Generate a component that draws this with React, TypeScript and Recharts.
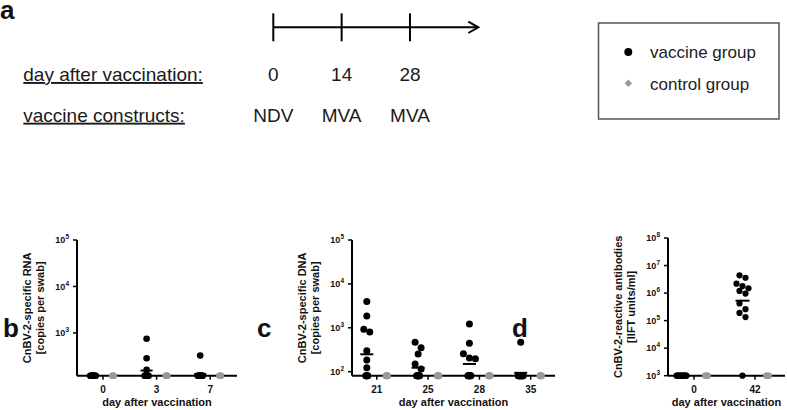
import React from 'react';
import { ScatterChart, Scatter, XAxis, YAxis, LineChart, Line } from 'recharts';

const W = 787;
const H = 410;
const FONT = '"Liberation Sans", Arial, Helvetica, sans-serif';

// ---------- panel a: vaccination schedule ----------
const TIMELINE_DAYS = [0, 14, 28];
const TIMELINE_CONSTRUCTS = ['NDV', 'MVA', 'MVA'];
const TIMELINE_END = 42;
const ROW_LABELS = ['day after vaccination:', 'vaccine constructs:'];

// ---------- legend ----------
const GROUP_NAMES = ['vaccine group', 'control group'];

// ---------- panel b: RNA (copies per swab) ----------
const B_DAYS = ['0', '3', '7'];
const B_FLOOR = 120;
const B_TOP = 100000;
const B_TICKS = [1000, 10000, 100000];
const B_VACCINE = [
  [120, 120, 120, 120, 120, 120, 120, 120, 120, 120, 120, 120],
  [750, 286, 160, 120, 120, 120, 120, 120, 120, 120, 120, 120],
  [325, 120, 120, 120, 120, 120, 120, 120, 120, 120, 120, 120],
];
const B_CONTROL = [
  [120, 120, 120, 120],
  [120, 120, 120, 120],
  [120, 120, 120, 120],
];
const B_MEAN = [120, 155, 131];

// ---------- panel c: DNA (copies per swab) ----------
const C_DAYS = ['21', '25', '28', '35'];
const C_FLOOR = 81;
const C_TOP = 100000;
const C_TICKS = [100, 1000, 10000, 100000];
const C_VACCINE = [
  [3950, 1860, 925, 800, 300, 185, 123, 81, 81, 81, 81, 81],
  [468, 352, 253, 150, 115, 81, 81, 81, 81, 81, 81, 81],
  [1220, 443, 255, 205, 198, 81, 81, 81, 81, 81, 81, 81],
  [468, 81, 81, 81, 81, 81, 81, 81, 81, 81, 81, 81],
];
const C_CONTROL = [
  [81, 81, 81, 81],
  [81, 81, 81, 81],
  [81, 81, 81, 81],
  [81, 81, 81, 81],
];
const C_MEAN = [249, 123, 150, 94];

// ---------- panel d: antibodies (IIFT units/ml) ----------
const D_DAYS = ['0', '42'];
const D_FLOOR = 1000;
const D_TOP = 100000000;
const D_TICKS = [1000, 10000, 100000, 1000000, 10000000, 100000000];
const D_VACCINE = [
  [1000, 1000, 1000, 1000, 1000, 1000, 1000, 1000, 1000, 1000, 1000, 1000],
  [4400000, 3600000, 2200000, 1800000, 1500000, 1200000, 960000, 420000, 260000, 190000, 135000, 1000],
];
const D_CONTROL = [
  [1000, 1000, 1000, 1000],
  [1000, 1000, 1000, 1000],
];
const D_MEAN = [1000, 530000];

type PanelCfg = {
  days: string[];
  floor: number;
  top: number;
  yTicks: number[];
  vaccine: number[][];
  control: number[][];
  mean: number[];
  titles: [string, string];
  plotLeft: number;
  plotRight: number;
  plotTop: number;
  plotBottom: number;
  firstCenter: number;
  spacing: number;
  offset: number;
  r: number;
  meanHalf: number;
  baseStep: number;
};

const PANELS: PanelCfg[] = [
  {
    days: B_DAYS, floor: B_FLOOR, top: B_TOP, yTicks: B_TICKS,
    vaccine: B_VACCINE, control: B_CONTROL, mean: B_MEAN,
    titles: ['CnBV-2-specific RNA', '[copies per swab]'],
    plotLeft: 77, plotRight: 237, plotTop: 240, plotBottom: 375.7,
    firstCenter: 103, spacing: 53.6, offset: 10, r: 3.3, meanHalf: 6, baseStep: 0.5,
  },
  {
    days: C_DAYS, floor: C_FLOOR, top: C_TOP, yTicks: C_TICKS,
    vaccine: C_VACCINE, control: C_CONTROL, mean: C_MEAN,
    titles: ['CnBV-2-specific DNA', '[copies per swab]'],
    plotLeft: 352, plotRight: 555, plotTop: 240, plotBottom: 375.7,
    firstCenter: 376.8, spacing: 51.3, offset: 10, r: 3.5, meanHalf: 6.5, baseStep: 0.5,
  },
  {
    days: D_DAYS, floor: D_FLOOR, top: D_TOP, yTicks: D_TICKS,
    vaccine: D_VACCINE, control: D_CONTROL, mean: D_MEAN,
    titles: ['CnBV-2-reactive antibodies', '[IIFT units/ml]'],
    plotLeft: 668, plotRight: 785, plotTop: 238, plotBottom: 375.7,
    firstCenter: 694, spacing: 61, offset: 12.5, r: 3.1, meanHalf: 7, baseStep: 0.9,
  },
];

// simple scatter-dot-plot spreading (like a column scatter plot)
function layoutGroup(values: number[], floor: number, pxPerDecade: number, pxPerUnit: number, center: number, baseStep: number) {
  const out: { x: number; y: number }[] = [];
  const base = values.filter((v) => v <= floor);
  base.forEach((v, i) => {
    const dxPx = (i - (base.length - 1) / 2) * baseStep;
    out.push({ x: center + dxPx / pxPerUnit, y: v });
  });
  const rest = values.filter((v) => v > floor).sort((a, b) => b - a);
  let i = 0;
  while (i < rest.length) {
    const y0 = Math.log10(rest[i]) * pxPerDecade;
    let j = i;
    while (j < rest.length && y0 - Math.log10(rest[j]) * pxPerDecade < 6.5) j++;
    const k = j - i;
    for (let m = i; m < j; m++) {
      const dxPx = (m - i - (k - 1) / 2) * 6;
      out.push({ x: center + dxPx / pxPerUnit, y: rest[m] });
    }
    i = j;
  }
  return out;
}

const Y_AXIS_W = 60;
const X_AXIS_H = 30;

function DotPanel({ cfg }: { cfg: PanelCfg }) {
  const pxPerUnit = cfg.offset * 2;
  const xMin = -(cfg.firstCenter - cfg.plotLeft) / pxPerUnit;
  const xMax = (cfg.plotRight - cfg.firstCenter) / pxPerUnit;
  const centers = cfg.days.map((_, i) => (i * cfg.spacing) / pxPerUnit);
  const pxPerDecade = (cfg.plotBottom - cfg.plotTop) / (Math.log10(cfg.top) - Math.log10(cfg.floor));
  const vac = cfg.vaccine.flatMap((vals, i) =>
    layoutGroup(vals, cfg.floor, pxPerDecade, pxPerUnit, centers[i] - 0.5, cfg.baseStep)
  );
  const ctl = cfg.control.flatMap((vals, i) =>
    layoutGroup(vals, cfg.floor, pxPerDecade, pxPerUnit, centers[i] + 0.5, cfg.baseStep)
  );
  const means = cfg.mean.map((v, i) => ({ x: centers[i] - 0.5, y: v }));
  const margin = {
    left: cfg.plotLeft - Y_AXIS_W,
    right: W - cfg.plotRight,
    top: cfg.plotTop,
    bottom: H - cfg.plotBottom - X_AXIS_H,
  };
  const midY = (cfg.plotTop + cfg.plotBottom) / 2;
  const midX = (cfg.plotLeft + cfg.plotRight) / 2;

  const XTick = (p: any) => (
    <text x={p.x} y={p.y + 11} textAnchor="middle" fontSize={10} fontWeight="bold" fill="#111" fontFamily={FONT}>
      {cfg.days[p.index]}
    </text>
  );
  const YTick = (p: any) => {
    const exp = Math.round(Math.log10(p.payload.value));
    return (
      <text x={p.x} y={p.y + 3.3} textAnchor="end" fontSize={9} fontWeight="bold" fill="#111" fontFamily={FONT}>
        10<tspan dy={-4} fontSize={6.5}>{exp}</tspan>
      </text>
    );
  };
  const yTitle = () => (
    <g fontFamily={FONT} fontSize={11} fontWeight="bold" fill="#111">
      <text transform={`translate(${cfg.plotLeft - 50},${midY}) rotate(-90)`} textAnchor="middle" dominantBaseline="central">
        {cfg.titles[0]}
      </text>
      <text transform={`translate(${cfg.plotLeft - 37},${midY}) rotate(-90)`} textAnchor="middle" dominantBaseline="central">
        {cfg.titles[1]}
      </text>
    </g>
  );
  const xTitle = () => (
    <text x={midX} y={405.5} textAnchor="middle" fontFamily={FONT} fontSize={11} fontWeight="bold" fill="#111">
      day after vaccination
    </text>
  );
  const dot = (color: string) => (p: any) => <circle cx={p.cx} cy={p.cy} r={cfg.r} fill={color} />;
  const meanShape = (p: any) => (
    <line x1={p.cx - cfg.meanHalf} x2={p.cx + cfg.meanHalf} y1={p.cy} y2={p.cy} stroke="#000" strokeWidth={2} />
  );

  return (
    <div style={{ position: 'absolute', left: 0, top: 0 }}>
      <ScatterChart width={W} height={H} margin={margin}>
        <XAxis
          type="number"
          dataKey="x"
          domain={[xMin, xMax]}
          ticks={centers}
          interval={0}
          height={X_AXIS_H}
          axisLine={{ stroke: '#000', strokeWidth: 2 }}
          tickLine={{ stroke: '#000', strokeWidth: 1.5 }}
          tickSize={4}
          tickMargin={2}
          tick={XTick}
          label={{ content: xTitle }}
        />
        <YAxis
          type="number"
          dataKey="y"
          scale="log"
          domain={[cfg.floor, cfg.top]}
          ticks={cfg.yTicks}
          interval={0}
          width={Y_AXIS_W}
          axisLine={{ stroke: '#000', strokeWidth: 2 }}
          tickLine={{ stroke: '#000', strokeWidth: 1.5 }}
          tickSize={4}
          tickMargin={4}
          tick={YTick}
          label={{ content: yTitle }}
        />
        <Scatter name="control group" data={ctl} fill="#999" shape={dot('#999')} isAnimationActive={false} />
        <Scatter name="vaccine group" data={vac} fill="#000" shape={dot('#000')} isAnimationActive={false} />
        <Scatter name="mean" data={means} fill="#000" shape={meanShape} isAnimationActive={false} />
      </ScatterChart>
    </div>
  );
}

function Timeline() {
  const data = [
    { d: TIMELINE_DAYS[0], v: 0 },
    { d: TIMELINE_END, v: 0 },
  ];
  const plotLeft = 273.3;
  const plotRight = 478.3;
  const plotTop = 13.3;
  const plotBottom = 41.3;
  const chartH = 130;
  const axisH = 80;
  const margin = { left: plotLeft, right: W - plotRight, top: plotTop, bottom: chartH - plotBottom - axisH };
  const Tick = (p: any) => {
    const idx = TIMELINE_DAYS.indexOf(p.payload.value);
    return (
      <g fontFamily={FONT} fontSize={19} fill="#1a1a1a">
        <line x1={p.x} x2={p.x} y1={p.y - 28} y2={p.y} stroke="#000" strokeWidth={2} />
        <text x={p.x} y={p.y + 39.7} textAnchor="middle">{p.payload.value}</text>
        <text x={p.x} y={p.y + 80.4} textAnchor="middle">{TIMELINE_CONSTRUCTS[idx]}</text>
      </g>
    );
  };
  const Arrow = (p: any) =>
    p.index === data.length - 1 ? (
      <polyline
        key="arrow"
        points={`${p.cx - 10},${p.cy - 5.7} ${p.cx},${p.cy} ${p.cx - 10},${p.cy + 5.7}`}
        fill="none"
        stroke="#000"
        strokeWidth={2}
      />
    ) : (
      <g key={`d${p.index}`} />
    );
  return (
    <div style={{ position: 'absolute', left: 0, top: 0 }}>
      <LineChart width={W} height={chartH} data={data} margin={margin}>
        <XAxis
          type="number"
          dataKey="d"
          domain={[TIMELINE_DAYS[0], TIMELINE_END]}
          ticks={TIMELINE_DAYS}
          interval={0}
          height={axisH}
          axisLine={false}
          tickLine={false}
          tickSize={0}
          tickMargin={0}
          tick={Tick}
        />
        <YAxis hide domain={[-1, 1]} />
        <Line dataKey="v" stroke="#000" strokeWidth={2} dot={Arrow} isAnimationActive={false} />
      </LineChart>
    </div>
  );
}

function Overlay() {
  return (
    <svg width={W} height={H} style={{ position: 'absolute', left: 0, top: 0 }} fontFamily={FONT}>
      <g fontSize={26} fontWeight="bold" fill="#111">
        <text x={0} y={19}>a</text>
        <text x={3} y={337}>b</text>
        <text x={257} y={337}>c</text>
        <text x={512} y={337}>d</text>
      </g>
      <g fontSize={19} fill="#1a1a1a">
        <text x={23.3} y={81} textDecoration="underline">{ROW_LABELS[0]}</text>
        <text x={23.3} y={121.7} textDecoration="underline">{ROW_LABELS[1]}</text>
      </g>
      <rect x={598.5} y={23} width={180.5} height={96} fill="#fff" stroke="#555" strokeWidth={1.5} />
      <circle cx={628.3} cy={52} r={4} fill="#000" />
      <polygon points="628.3,79.5 632,83.3 628.3,87.1 624.6,83.3" fill="#999" />
      <g fontSize={17} fill="#222">
        <text x={650} y={58.3}>{GROUP_NAMES[0]}</text>
        <text x={650} y={90}>{GROUP_NAMES[1]}</text>
      </g>
    </svg>
  );
}

export default function App() {
  return (
    <div style={{ position: 'relative', width: W, height: H, background: '#fff', overflow: 'hidden' }}>
      <style>{'body{margin:0;background:#fff}'}</style>
      <Timeline />
      {PANELS.map((cfg, i) => (
        <DotPanel key={i} cfg={cfg} />
      ))}
      <Overlay />
    </div>
  );
}
